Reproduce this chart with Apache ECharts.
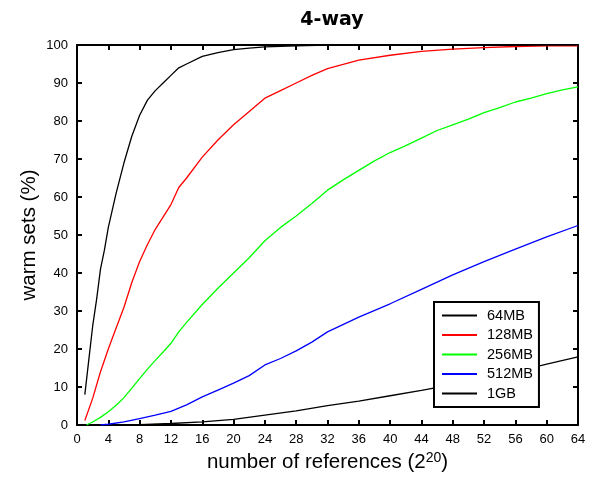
<!DOCTYPE html>
<html>
<head>
<meta charset="utf-8">
<script src="https://cdn.jsdelivr.net/npm/echarts@6/dist/echarts.min.js"></script>
<style>
  html, body { margin: 0; padding: 0; background: #fff; }
  #chart { width: 590px; height: 478px; }
</style>
</head>
<body>
<div id="chart"></div>
<script>
// values (x in 2^20 references, y in %)
const x64 = [1, 1.5, 2, 2.5, 3, 3.5, 4, 5, 6, 7, 8, 9, 10, 11, 12, 13, 14, 16, 18, 20, 22, 24, 28, 32, 40, 48, 56, 64];
const y64 = [8, 17, 26, 33, 41, 46, 52, 61, 69, 76, 81.5, 85.5, 88, 90, 92, 94, 95, 97, 98, 98.8, 99.2, 99.5, 99.8, 100, 100, 100, 100, 100];

const x128 = [1, 2, 3, 4, 5, 6, 7, 8, 9, 10, 12, 13, 14, 16, 18, 20, 22, 24, 26, 28, 30, 32, 36, 40, 44, 48, 52, 56, 60, 64];
const y128 = [1.2, 7, 14, 20, 25.5, 31, 37.5, 43, 47.5, 51.5, 58, 62.5, 65, 70.5, 75, 79, 82.5, 86, 88, 90, 92, 93.8, 96, 97.3, 98.3, 98.9, 99.3, 99.6, 99.8, 99.8];

const x256 = [1.2, 2, 3, 4, 5, 6, 7, 8, 9, 10, 11, 12, 13, 14, 16, 18, 20, 22, 24, 26, 28, 30, 32, 34, 36, 38, 40, 42, 44, 46, 48, 50, 52, 54, 56, 58, 60, 62, 64];
const y256 = [0, 0.8, 2, 3.5, 5.2, 7.2, 9.7, 12.2, 14.7, 17, 19.2, 21.5, 24.5, 27, 31.7, 36, 40, 44, 48.5, 52, 55, 58.3, 61.8, 64.5, 67, 69.5, 71.7, 73.5, 75.5, 77.5, 79, 80.5, 82.2, 83.5, 85, 86, 87.2, 88.2, 89];

const x512 = [3, 4, 6, 8, 10, 12, 14, 16, 18, 20, 22, 24, 26, 28, 30, 32, 36, 40, 44, 48, 52, 56, 60, 64];
const y512 = [0, 0.2, 0.8, 1.7, 2.6, 3.6, 5.3, 7.4, 9.2, 11, 13, 15.8, 17.5, 19.5, 21.8, 24.5, 28.4, 31.9, 35.7, 39.5, 43, 46.3, 49.5, 52.5];

const x1g = [5, 8, 12, 16, 20, 24, 28, 32, 36, 40, 44, 48, 52, 56, 60, 64];
const y1g = [0, 0.1, 0.4, 0.8, 1.5, 2.6, 3.7, 5.1, 6.3, 7.7, 9.1, 10.6, 12.2, 14, 16, 17.9];

const seriesNames = ['64MB', '128MB', '256MB', '512MB', '1GB'];
const seriesColors = ['#000000', '#ff0000', '#00ff00', '#0000ff', '#000000'];
const xsList = [x64, x128, x256, x512, x1g];
const ysList = [y64, y128, y256, y512, y1g];

const font = 'Liberation Sans, Arial, sans-serif';

const pair = (xs, ys) => xs.map((x, i) => [x, ys[i]]);

const frameAxis = (extra) => Object.assign({
    axisLine: { show: true, onZero: false, lineStyle: { color: '#000', width: 2 } },
    axisTick: { show: true, inside: true, length: 5, lineStyle: { color: '#000', width: 2 } },
    splitLine: { show: false },
}, extra);

const chart = echarts.init(document.getElementById('chart'));
const option = {
    backgroundColor: '#fff',
    animation: false,
    title: {
        text: '4-way',
        left: 327,
        top: 6,
        textAlign: 'center',
        textStyle: { fontFamily: 'DejaVu Sans, sans-serif', fontSize: 19, fontWeight: 'bold', color: '#000' },
    },
    grid: {
        left: 77,
        right: 12,
        top: 45,
        bottom: 51,
    },
    legend: {
        orient: 'vertical',
        left: 434,
        top: 302,
        align: 'left',
        icon: 'rect',
        itemWidth: 35,
        itemHeight: 2,
        itemGap: 4.5,
        padding: [6, 6, 6, 8],
        borderColor: '#000',
        borderWidth: 2,
        backgroundColor: '#fff',
        textStyle: { fontFamily: font, fontSize: 14.5, lineHeight: 15, color: '#000', padding: [0, 0, 0, 5] },
        data: seriesNames,
    },
    xAxis: [
        frameAxis({
            type: 'value',
            min: 0,
            max: 64,
            interval: 4,
            position: 'bottom',
            name: 'number of references (2{sup|20})',
            nameLocation: 'middle',
            nameMoveOverlap: false,
            nameGap: 26,
            nameTextStyle: {
                fontFamily: font,
                fontSize: 20.5,
                color: '#000',
                rich: {
                    sup: { fontFamily: font, fontSize: 14, color: '#000', verticalAlign: 'top', padding: [0, 0, 9, 0] },
                },
            },
            axisLabel: { fontFamily: font, fontSize: 13, color: '#000', margin: 8 },
        }),
        frameAxis({
            type: 'value',
            min: 0,
            max: 64,
            interval: 4,
            position: 'top',
            axisLabel: { show: false },
        }),
    ],
    yAxis: [
        frameAxis({
            type: 'value',
            min: 0,
            max: 100,
            interval: 10,
            position: 'left',
            name: 'warm sets (%)',
            nameLocation: 'middle',
            nameMoveOverlap: false,
            nameGap: 37,
            nameTextStyle: { fontFamily: font, fontSize: 20.5, color: '#000' },
            axisLabel: { fontFamily: font, fontSize: 13, color: '#000', margin: 9 },
        }),
        frameAxis({
            type: 'value',
            min: 0,
            max: 100,
            interval: 10,
            position: 'right',
            axisLabel: { show: false },
        }),
    ],
    series: seriesNames.map((name, i) => ({
        name,
        type: 'line',
        showSymbol: false,
        symbol: 'none',
        smooth: false,
        color: seriesColors[i],
        lineStyle: { color: seriesColors[i], width: 1.3 },
        z: 5 - i,
        data: pair(xsList[i], ysList[i]),
    })),
};
chart.setOption(option);
</script>
</body>
</html>
